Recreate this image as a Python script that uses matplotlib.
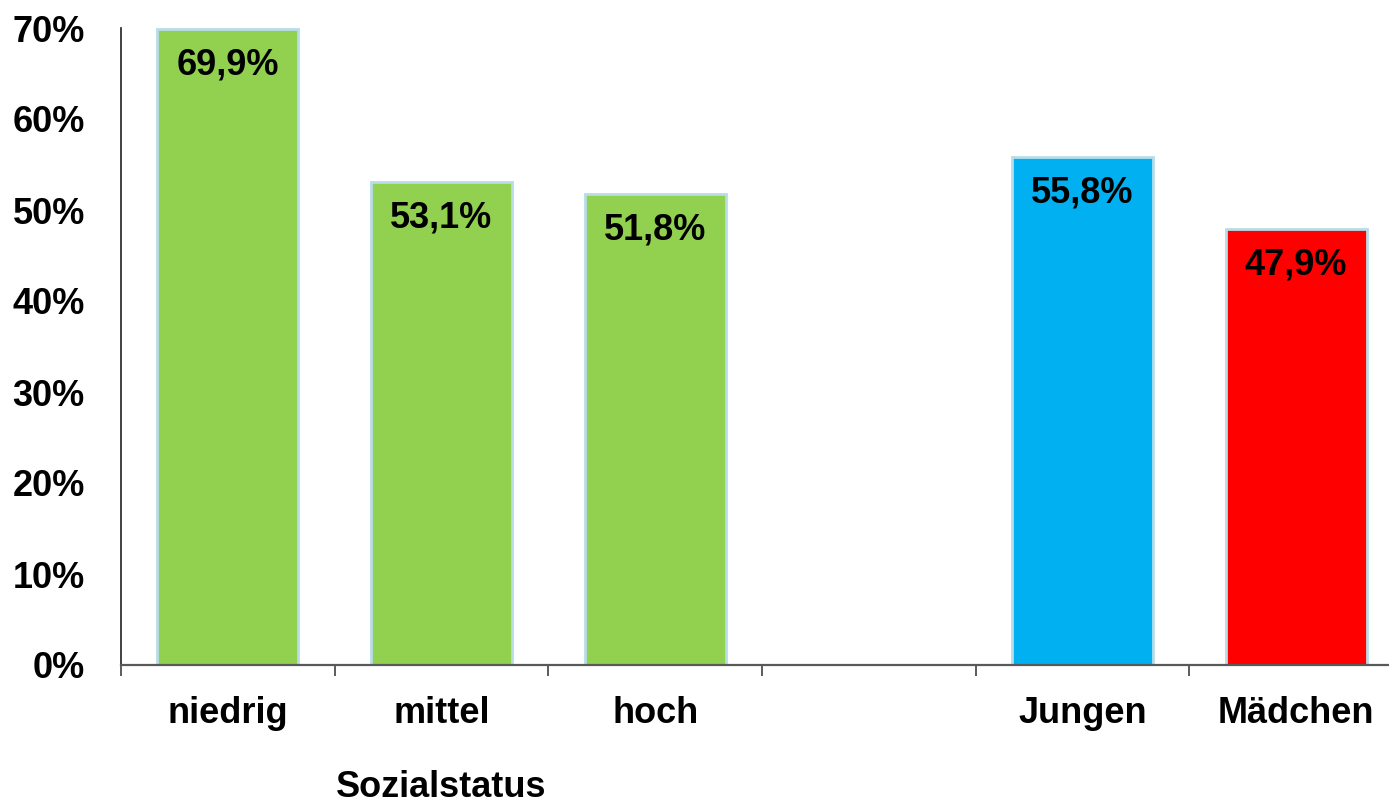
import matplotlib.pyplot as plt
from matplotlib.ticker import FuncFormatter

categories = ['niedrig', 'mittel', 'hoch', '', 'Jungen', 'Mädchen']
values = [69.9, 53.1, 51.8, None, 55.8, 47.9]
colours = ['#92d050', '#92d050', '#92d050', 'none', '#00b0f0', '#ff0000']
group_label = 'Sozialstatus'

plt.rcParams['font.family'] = ['Liberation Sans', 'DejaVu Sans']
plt.rcParams['font.weight'] = 'bold'

fs = 26

fig = plt.figure(figsize=(13.89, 8.06), dpi=100)
ax = fig.add_axes([121 / 1389, 141 / 806, 1282 / 1389, 637 / 806])

xs = [i + 0.5 for i in range(len(categories))]
for x, v, c in zip(xs, values, colours):
    if v is None:
        continue
    ax.bar(x, v, width=0.66, color=c, edgecolor='#b7dde8', linewidth=2, zorder=2)
    ax.annotate(f'{v:.1f}%'.replace('.', ','), (x, v), xytext=(0, -26),
                textcoords='offset points', ha='center', va='center',
                fontsize=fs, fontweight='bold', color='black', zorder=3)

ax.set_xlim(0, len(categories))
ax.set_ylim(0, 70)
ax.set_yticks(range(0, 71, 10))
ax.yaxis.set_major_formatter(FuncFormatter(lambda v, p: f'{v:.0f}%'))
ax.tick_params(axis='y', length=0, pad=26, labelsize=fs)

ax.set_xticks(xs)
ax.set_xticklabels(categories, fontsize=fs, fontweight='bold')
ax.set_xticks(range(0, len(categories) + 1), minor=True)
ax.tick_params(axis='x', which='major', length=0, pad=22)
ax.tick_params(axis='x', which='minor', length=8, width=1.2, color='#404040')

for s in ['top', 'right']:
    ax.spines[s].set_visible(False)
ax.spines['left'].set_color('#202020')
ax.spines['left'].set_linewidth(1.2)
ax.spines['bottom'].set_color('#595959')
ax.spines['bottom'].set_linewidth(1.6)

ax.text(1.5, -0.193, group_label, transform=ax.get_xaxis_transform(),
        ha='center', va='center', fontsize=fs, fontweight='bold')

fig.savefig('out.png', dpi=100)
